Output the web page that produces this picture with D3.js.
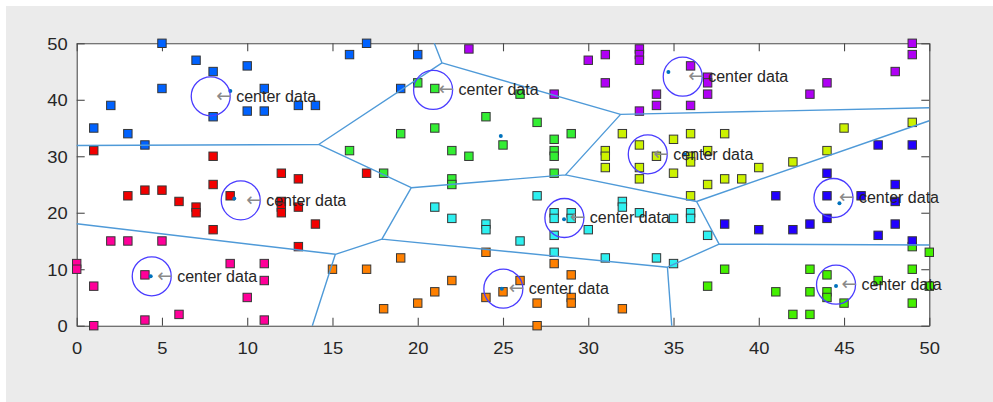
<!DOCTYPE html>
<html>
<head>
<meta charset="utf-8">
<script src="https://cdn.jsdelivr.net/npm/d3@7"></script>
<style>
  body { margin: 0; background: #ffffff; }
  svg text { font-family: "Liberation Sans", Arial, Helvetica, sans-serif; }
</style>
</head>
<body>
<svg id="chart" width="993" height="402"></svg>
<script>
// ---- cluster members (x, y) ----
const groupBlue = [[5,50],[7,47],[8,45],[10,46],[5,42],[11,42],[2,39],[8,37],[10,38],[11,38],[13,39],[14,39],[1,35],[3,34],[4,32],[16,48],[17,50],[20,48],[19,42]];
const groupRed = [[1,31],[8,30],[12,27],[13,26],[17,27],[8,25],[3,23],[4,24],[5,24],[6,22],[7,21],[7,20],[8,17],[9,23],[12,22],[12,21],[12,20],[13,21],[14,18],[13,14]];
const groupPink = [[0,11],[0,10],[1,7],[1,0],[2,15],[3,15],[5,15],[4,9],[4,1],[6,2],[9,11],[10,5],[11,11],[11,8],[11,1]];
const groupOrange = [[15,10],[17,10],[19,12],[18,3],[20,4],[21,6],[22,8],[24,13],[24,5],[25,6],[26,8],[27,4],[27,0],[28,11],[29,9],[29,5],[29,4],[32,3]];
const groupCyan = [[27,23],[21,21],[22,19],[24,18],[24,17],[26,15],[28,20],[28,19],[28,16],[28,13],[29,20],[29,19],[30,17],[31,12],[32,22],[32,21],[33,20],[35,19],[36,20],[36,19],[37,16],[34,12],[35,11]];
const groupLime = [[38,10],[37,7],[41,6],[42,2],[43,2],[43,10],[43,6],[44,9],[44,6],[44,5],[45,4],[47,8],[49,14],[49,10],[49,4],[50,13],[50,7]];
const groupIndigo = [[41,23],[44,23],[46,23],[48,25],[48,22],[48,18],[38,18],[40,17],[42,17],[43,18],[44,19],[47,16],[49,15],[47,32],[49,32],[44,27]];
const groupYellow = [[32,34],[33,32],[31,31],[31,30],[31,28],[33,28],[33,26],[34,30],[35,33],[36,34],[38,34],[37,31],[36,30],[36,29],[35,27],[37,25],[38,26],[39,26],[40,28],[42,29],[44,31],[45,35],[49,36],[36,23]];
const groupPurple = [[23,49],[30,47],[31,48],[33,49],[33,48],[33,47],[31,43],[28,41],[33,38],[34,41],[34,39],[36,46],[37,44],[37,43],[37,41],[36,39],[43,41],[44,43],[48,45],[49,50],[49,48]];
const groupGreen = [[16,31],[18,27],[19,34],[20,43],[21,42],[21,35],[22,31],[22,26],[22,25],[23,30],[24,37],[25,32],[26,41],[27,36],[28,33],[28,31],[28,30],[28,27],[29,34]];

const groupColors = ["#0062ff", "#f20000", "#ff0099", "#ff8000", "#2ef0f0",
                     "#44f000", "#2200ff", "#ccf200", "#b000f5", "#33ee33"];

// Voronoi seeds (cluster centroids)
const seeds = [[9.01,41.55],[9.24,22.5],[4.34,8.75],[24.93,6.55],[28.58,18.84],
               [44.53,7.03],[44.73,21.67],[35.64,30.35],[34.7,44.9],[24.87,33.6]];

// annotated "center data" points
const centerData = [[7.86,40.62],[9.62,22.2],[4.4,8.75],[25.02,6.55],[28.6,19.07],
                    [44.53,7.26],[44.38,22.61],[33.49,30.35],[35.54,44.09],[20.9,41.74]];
const centerLabel = "center data";

const xTicks = [0,5,10,15,20,25,30,35,40,45,50];
const yTicks = [0,10,20,30,40,50];

// ---- layout ----
const W = 993, H = 402;
const plot = { left: 76.7, right: 929.3, top: 43.3, bottom: 325.7 };
const TICK_FONT = 17, TICK_STRETCH = 1.08, LABEL_FONT = 16;

const svg = d3.select("#chart");
svg.append("rect").attr("x", 6).attr("y", 6).attr("width", W - 6).attr("height", H - 6)
   .attr("fill", "#ebebeb");
svg.append("rect").attr("x", plot.left).attr("y", plot.top)
   .attr("width", plot.right - plot.left).attr("height", plot.bottom - plot.top)
   .attr("fill", "#ffffff");

const x = d3.scaleLinear().domain([0, 50]).range([plot.left, plot.right]);
const y = d3.scaleLinear().domain([0, 50]).range([plot.bottom, plot.top]);

// ---- axes (ticks point inward on all four sides) ----
const axisColor = "#4a4a4a";
function styleAxis(g) {
  g.select(".domain").attr("stroke", axisColor).attr("stroke-width", 1.1);
  g.selectAll(".tick line").attr("stroke", axisColor).attr("stroke-width", 1.1);
  g.selectAll(".tick text").attr("fill", "#262626").attr("font-size", TICK_FONT)
    .attr("transform", `scale(${TICK_STRETCH},1)`)
    .attr("x", function () { return +d3.select(this).attr("x") / TICK_STRETCH; });
}
const gxB = svg.append("g").attr("transform", `translate(0,${plot.bottom})`)
  .call(d3.axisBottom(x).tickValues(xTicks).tickSizeInner(-8).tickSizeOuter(0).tickPadding(16));
styleAxis(gxB);
const gxT = svg.append("g").attr("transform", `translate(0,${plot.top})`)
  .call(d3.axisTop(x).tickValues(xTicks).tickSizeInner(-8).tickSizeOuter(0).tickFormat(""));
styleAxis(gxT);
const gyL = svg.append("g").attr("transform", `translate(${plot.left},0)`)
  .call(d3.axisLeft(y).tickValues(yTicks).tickSizeInner(-8).tickSizeOuter(0).tickPadding(9));
styleAxis(gyL);
gyL.selectAll(".tick text").attr("dy", "0.36em");
const gyR = svg.append("g").attr("transform", `translate(${plot.right},0)`)
  .call(d3.axisRight(y).tickValues(yTicks).tickSizeInner(-8).tickSizeOuter(0).tickFormat(""));
styleAxis(gyR);

// ---- scatter of clustered points ----
const groups = [groupBlue, groupRed, groupPink, groupOrange, groupCyan,
                groupLime, groupIndigo, groupYellow, groupPurple, groupGreen];
const S = 8.4;
groups.forEach((pts, i) => {
  svg.append("g").selectAll("rect").data(pts).join("rect")
    .attr("x", d => x(d[0]) - S / 2).attr("y", d => y(d[1]) - S / 2)
    .attr("width", S).attr("height", S)
    .attr("fill", groupColors[i]).attr("stroke", "#363636").attr("stroke-width", 1);
});

// ---- Voronoi partition of the seeds, computed in data space ----
const voronoi = d3.Delaunay.from(seeds).voronoi([0, 0, 50, 50]);
const vp = d3.path();
voronoi.render({
  moveTo: (a, b) => vp.moveTo(x(a), y(b)),
  lineTo: (a, b) => vp.lineTo(x(a), y(b)),
  closePath: () => vp.closePath()
});
svg.append("path").attr("d", vp.toString()).attr("fill", "none")
   .attr("stroke", "#4f9ad8").attr("stroke-width", 1.4);

svg.append("g").selectAll("circle").data(seeds).join("circle")
   .attr("cx", d => x(d[0])).attr("cy", d => y(d[1])).attr("r", 2)
   .attr("fill", "#0072bd");

// ---- circled centers with labels ----
svg.append("g").selectAll("circle").data(centerData).join("circle")
   .attr("cx", d => x(d[0])).attr("cy", d => y(d[1])).attr("r", 19.5)
   .attr("fill", "none").attr("stroke", "#4a3cff").attr("stroke-width", 1.3);

const labels = svg.append("g").selectAll("text").data(centerData).join("text")
   .attr("x", d => x(d[0]) + 5.5).attr("y", d => y(d[1]) + 5.5)
   .attr("font-size", LABEL_FONT).attr("fill", "#262626");
labels.append("tspan").attr("fill", "#8a8a8a")
   .attr("font-family", "'DejaVu Sans', sans-serif").attr("font-size", 18.5)
   .text("\u2190");
labels.append("tspan").text(" " + centerLabel);
</script>
</body>
</html>
